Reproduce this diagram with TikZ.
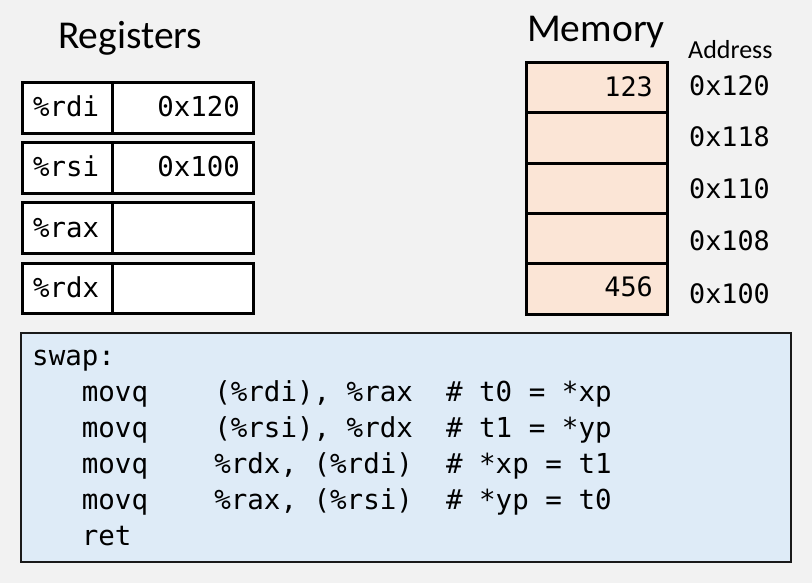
\documentclass[tikz,border=0pt]{standalone}
\usepackage{fontspec}
\setmainfont{Carlito}
\newfontfamily\monof{DejaVu Sans Mono}
\definecolor{bgc}{HTML}{F2F2F2}
\definecolor{memfill}{HTML}{FBE5D6}
\definecolor{codefill}{HTML}{DEEBF7}
\definecolor{codeline}{HTML}{1A1A1A}
\tikzset{
  cell/.style={draw=black, line width=3pt, fill=white, rectangle, inner sep=0pt, anchor=north west},
  memcell/.style={draw=black, line width=3pt, fill=memfill, rectangle, inner sep=0pt, anchor=north west, minimum width=141pt, minimum height=50.5pt},
  title/.style={font=\fontsize{39.5}{42}\selectfont, inner sep=0pt, anchor=base west},
  smalltitle/.style={font=\fontsize{26}{30}\selectfont, inner sep=0pt, anchor=base west},
  regtxt/.style={font=\monof\fontsize{27.4}{32}\selectfont, inner sep=0pt},
  memtxt/.style={font=\monof\fontsize{26.8}{32}\selectfont, inner sep=0pt},
  codetxt/.style={font=\monof\fontsize{27.5}{36}\selectfont, inner sep=0pt, anchor=base west},
}
\begin{document}
\begin{tikzpicture}[x=1pt,y=-1pt]
\useasboundingbox (0,0) rectangle (812,583);
\fill[bgc] (0,0) rectangle (812,583);

% titles
\node[title] (regtitle) at (58,49) {Registers};
\node[title] (memtitle) at (527,42) {Memory};
\node[smalltitle] (addrtitle) at (688,59) {Address};

% registers
\foreach \i/\nm/\val/\top in {1/rdi/0x120/81.5, 2/rsi/0x100/141.5, 3/rax//201.5, 4/rdx//261.5}{
  \node[cell, minimum width=90pt, minimum height=50.5pt] (rn\i) at (21,\top) {};
  \node[cell, minimum width=141pt, minimum height=50.5pt] (rv\i) at (111,\top) {};
  \node[regtxt, anchor=base west] (rnt\i) at (33,\top+35.5) {\%\nm};
  \node[regtxt, anchor=base east] (rvt\i) at (240,\top+35.5) {\val};
}

% memory
\foreach \i/\top in {1/61, 2/111.5, 3/162, 4/212, 5/262}{
  \node[memcell] (m\i) at (525,\top) {};
}
\node[memtxt, anchor=base east] (mv1) at (653,97) {123};
\node[memtxt, anchor=base east] (mv5) at (653,296) {456};

\foreach \i/\a/\b in {1/0x120/96, 2/0x118/147, 3/0x110/199, 4/0x108/251, 5/0x100/303}{
  \node[memtxt, anchor=base west] (addr\i) at (689,\b) {\a};
}

% code box
\node[draw=codeline, line width=2pt, fill=codefill, rectangle, inner sep=0pt, anchor=north west,
      minimum width=770pt, minimum height=229pt] (codebox) at (20,332) {};
\node[codetxt] (c1) at (32,365) {swap:};
\node[codetxt] (c2) at (32,401) {~~~movq~~~~(\%rdi),~\%rax~~\#~t0~=~*xp};
\node[codetxt] (c3) at (32,437) {~~~movq~~~~(\%rsi),~\%rdx~~\#~t1~=~*yp};
\node[codetxt] (c4) at (32,473) {~~~movq~~~~\%rdx,~(\%rdi)~~\#~*xp~=~t1};
\node[codetxt] (c5) at (32,509) {~~~movq~~~~\%rax,~(\%rsi)~~\#~*yp~=~t0};
\node[codetxt] (c6) at (32,545) {~~~ret};
\end{tikzpicture}
\end{document}
